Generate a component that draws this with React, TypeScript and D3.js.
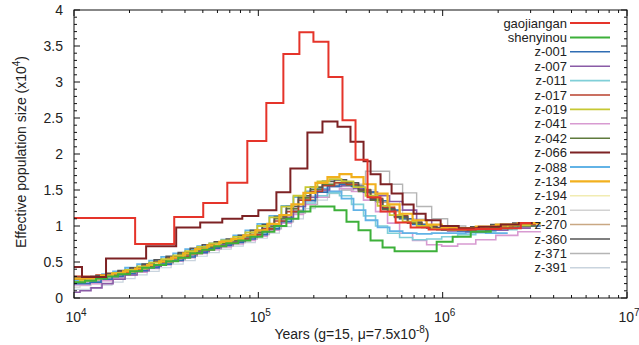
import React from 'react';
import * as d3 from 'd3';

// ---- time grids (years), read from the step positions ----
const GRID_A = [1.0e4, 1.148e4, 1.317e4, 1.511e4, 1.734e4, 2.015e4, 2.342e4, 2.721e4, 3.162e4, 3.675e4, 4.27e4, 4.963e4, 5.767e4, 6.701e4, 7.787e4, 9.05e4, 1.051e5, 1.222e5, 1.42e5, 1.65e5, 1.917e5, 2.228e5, 2.588e5, 3.008e5, 3.495e5, 4.062e5, 4.72e5, 5.485e5, 6.453e5, 7.69e5, 9.28e5, 1.133e6, 1.42e6, 1.824e6, 2.401e6, 3.203e6];
const GRID_B = [0.9e4, 1.222e4, 1.402e4, 1.608e4, 1.846e4, 2.145e4, 2.493e4, 2.897e4, 3.366e4, 3.912e4, 4.545e4, 5.283e4, 6.139e4, 7.133e4, 8.289e4, 9.634e4, 1.119e5, 1.301e5, 1.512e5, 1.756e5, 2.041e5, 2.372e5, 2.755e5, 3.202e5, 3.72e5, 4.324e5, 5.024e5, 5.839e5, 6.869e5, 8.186e5, 9.879e5, 1.206e6, 1.512e6, 1.942e6, 2.556e6, 3.41e6];
const GRID_C = [0.9e4, 1.078e4, 1.237e4, 1.419e4, 1.629e4, 1.893e4, 2.2e4, 2.556e4, 2.971e4, 3.452e4, 4.011e4, 4.662e4, 5.418e4, 6.295e4, 7.315e4, 8.502e4, 9.873e4, 1.148e5, 1.334e5, 1.55e5, 1.801e5, 2.093e5, 2.431e5, 2.826e5, 3.283e5, 3.816e5, 4.434e5, 5.153e5, 6.062e5, 7.224e5, 8.718e5, 1.064e6, 1.334e6, 1.713e6, 2.255e6, 3.009e6];

// ---- gaojiangan & z-066 have their own step times ----
const GAOJIANGAN_T = [0.9e4, 2.146e4, 3.497e4, 5.024e4, 6.786e4, 8.714e4, 1.105e5, 1.367e5, 1.67e5, 1.99e5, 2.401e5, 2.861e5, 3.367e5, 3.912e5, 4.603e5, 5.555e5, 6.701e5, 8.393e5, 1.105e6, 1.511e6, 2.067e6, 2.654e6, 3.008e6];
const GAOJIANGAN_V = [1.11, 0.75, 1.125, 1.32, 1.6, 2.18, 2.71, 3.39, 3.69, 3.56, 3.07, 2.47, 1.92, 1.4, 1.2, 1.05, 0.98, 0.95, 0.95, 0.96, 0.97, 1.04];
const Z066_T = [0.9e4, 1.105e4, 1.492e4, 2.462e4, 3.584e4, 4.838e4, 6.373e4, 8.185e4, 1.0e5, 1.253e5, 1.492e5, 1.846e5, 2.228e5, 2.688e5, 3.162e5, 3.722e5, 4.062e5, 4.603e5, 5.283e5, 6.062e5, 6.958e5, 8.084e5, 9.752e5, 1.222e6, 1.569e6, 2.067e6, 2.588e6, 3.084e6];
const Z066_V = [0.43, 0.29, 0.55, 0.72, 0.98, 1.05, 1.1, 1.14, 1.22, 1.47, 1.8, 2.3, 2.45, 2.38, 2.17, 1.9, 1.72, 1.58, 1.45, 1.3, 1.17, 1.08, 1.0, 0.97, 0.99, 1.02, 1.04];

// ---- Ne values (x10^4) on the grids ----
const SHENYINOU = [0.22, 0.24, 0.27, 0.3, 0.33, 0.37, 0.42, 0.46, 0.51, 0.56, 0.62, 0.67, 0.72, 0.76, 0.8, 0.85, 0.92, 1.0, 1.1, 1.2, 1.27, 1.27, 1.22, 1.06, 0.94, 0.8, 0.7, 0.65, 0.65, 0.65, 0.78, 0.85, 0.92, 0.97];
const Z001 = [0.2, 0.22, 0.26, 0.3, 0.34, 0.38, 0.42, 0.47, 0.52, 0.57, 0.63, 0.69, 0.73, 0.77, 0.82, 0.88, 0.96, 1.06, 1.2, 1.35, 1.47, 1.55, 1.58, 1.55, 1.47, 1.35, 1.22, 1.1, 1.02, 0.97, 0.94, 0.93, 0.95, 0.97, 1.0];
const Z007 = [0.08, 0.1, 0.14, 0.2, 0.26, 0.32, 0.38, 0.44, 0.5, 0.55, 0.6, 0.65, 0.7, 0.74, 0.79, 0.85, 0.92, 1.0, 1.12, 1.27, 1.4, 1.5, 1.55, 1.56, 1.52, 1.47, 1.42, 1.34, 1.22, 1.08, 0.98, 0.93, 0.92, 0.94, 0.97];
const Z011 = [0.28, 0.28, 0.3, 0.33, 0.36, 0.4, 0.45, 0.5, 0.55, 0.6, 0.66, 0.71, 0.75, 0.79, 0.84, 0.9, 0.98, 1.08, 1.2, 1.32, 1.42, 1.46, 1.42, 1.3, 1.14, 1.0, 0.9, 0.84, 0.81, 0.82, 0.85, 0.88, 0.92, 0.95];
const Z017 = [0.3, 0.3, 0.32, 0.34, 0.36, 0.4, 0.45, 0.5, 0.55, 0.58, 0.62, 0.67, 0.72, 0.77, 0.82, 0.88, 0.96, 1.07, 1.2, 1.36, 1.48, 1.56, 1.6, 1.58, 1.5, 1.38, 1.26, 1.14, 1.05, 0.99, 0.96, 0.95, 0.97, 1.0, 1.02];
const Z019 = [0.22, 0.24, 0.27, 0.31, 0.35, 0.39, 0.44, 0.49, 0.54, 0.59, 0.65, 0.71, 0.76, 0.8, 0.85, 0.91, 1.0, 1.12, 1.27, 1.42, 1.54, 1.62, 1.65, 1.62, 1.54, 1.42, 1.28, 1.15, 1.06, 1.0, 0.96, 0.95, 0.96, 0.98, 1.01];
const Z041 = [0.18, 0.2, 0.24, 0.28, 0.32, 0.36, 0.41, 0.46, 0.51, 0.56, 0.62, 0.67, 0.71, 0.75, 0.8, 0.86, 0.94, 1.04, 1.16, 1.3, 1.4, 1.48, 1.52, 1.48, 1.36, 1.2, 1.04, 0.9, 0.8, 0.74, 0.72, 0.75, 0.81, 0.87, 0.92];
const Z042 = [0.26, 0.27, 0.29, 0.32, 0.35, 0.4, 0.45, 0.5, 0.56, 0.61, 0.66, 0.71, 0.76, 0.8, 0.85, 0.91, 0.99, 1.1, 1.24, 1.39, 1.51, 1.58, 1.6, 1.57, 1.48, 1.36, 1.23, 1.12, 1.04, 0.98, 0.95, 0.94, 0.95, 0.97, 1.0];
const Z088 = [0.25, 0.27, 0.3, 0.33, 0.37, 0.42, 0.47, 0.52, 0.57, 0.62, 0.68, 0.72, 0.76, 0.81, 0.87, 0.94, 1.03, 1.14, 1.28, 1.4, 1.48, 1.52, 1.48, 1.38, 1.22, 1.08, 0.98, 0.93, 0.9, 0.89, 0.9, 0.9, 0.91, 0.9];
const Z134 = [0.27, 0.28, 0.31, 0.34, 0.37, 0.41, 0.46, 0.51, 0.56, 0.62, 0.68, 0.73, 0.78, 0.82, 0.87, 0.94, 1.03, 1.15, 1.3, 1.46, 1.6, 1.68, 1.72, 1.68, 1.58, 1.45, 1.3, 1.17, 1.08, 1.02, 0.98, 0.97, 0.99, 1.02, 1.04];
const Z194 = [0.3, 0.3, 0.32, 0.35, 0.38, 0.42, 0.47, 0.52, 0.57, 0.62, 0.67, 0.72, 0.76, 0.8, 0.86, 0.92, 1.0, 1.1, 1.24, 1.38, 1.5, 1.58, 1.62, 1.6, 1.52, 1.4, 1.28, 1.16, 1.07, 1.01, 0.97, 0.96, 0.97, 0.99];
const Z201 = [0.15, 0.17, 0.2, 0.24, 0.28, 0.33, 0.38, 0.44, 0.49, 0.54, 0.6, 0.65, 0.7, 0.74, 0.79, 0.85, 0.92, 1.02, 1.15, 1.3, 1.42, 1.5, 1.55, 1.55, 1.52, 1.45, 1.35, 1.22, 1.1, 1.02, 0.97, 0.95, 0.96, 0.98];
const Z270 = [0.24, 0.25, 0.28, 0.31, 0.35, 0.39, 0.44, 0.49, 0.54, 0.59, 0.65, 0.7, 0.75, 0.79, 0.84, 0.9, 0.98, 1.08, 1.22, 1.37, 1.5, 1.57, 1.6, 1.56, 1.46, 1.33, 1.2, 1.1, 1.03, 0.98, 0.95, 0.95, 0.97, 1.0, 1.03];
const Z360 = [0.28, 0.29, 0.31, 0.34, 0.38, 0.42, 0.47, 0.53, 0.58, 0.63, 0.69, 0.74, 0.78, 0.82, 0.87, 0.94, 1.02, 1.13, 1.27, 1.42, 1.54, 1.62, 1.64, 1.6, 1.5, 1.37, 1.24, 1.13, 1.05, 1.0, 0.97, 0.97, 0.99, 1.02, 1.04];
const Z371 = [0.2, 0.21, 0.24, 0.27, 0.31, 0.35, 0.39, 0.44, 0.48, 0.53, 0.58, 0.63, 0.68, 0.72, 0.77, 0.82, 0.88, 0.96, 1.06, 1.18, 1.3, 1.4, 1.46, 1.5, 1.58, 1.76, 1.76, 1.58, 1.46, 1.27, 1.1, 1.0, 0.95, 0.96, 0.98];
const Z391 = [0.12, 0.14, 0.18, 0.22, 0.27, 0.32, 0.37, 0.42, 0.47, 0.52, 0.58, 0.63, 0.68, 0.72, 0.77, 0.83, 0.9, 0.99, 1.1, 1.24, 1.36, 1.45, 1.5, 1.52, 1.5, 1.44, 1.34, 1.22, 1.1, 1.02, 0.96, 0.94, 0.95, 0.97];

const LEGEND_NAMES = ['gaojiangan', 'shenyinou', 'z-001', 'z-007', 'z-011', 'z-017', 'z-019', 'z-041', 'z-042', 'z-066', 'z-088', 'z-134', 'z-194', 'z-201', 'z-270', 'z-360', 'z-371', 'z-391'];
const Y_TICKS = [0, 0.5, 1, 1.5, 2, 2.5, 3, 3.5, 4];
const X_DECADES = [1e4, 1e5, 1e6, 1e7];

type Series = { name: string; color: string; width: number; t: number[]; v: number[] };

const SERIES: Series[] = [
  { name: 'gaojiangan', color: '#e5342a', width: 2, t: GAOJIANGAN_T, v: GAOJIANGAN_V },
  { name: 'shenyinou', color: '#3db03a', width: 2, t: GRID_A, v: SHENYINOU },
  { name: 'z-001', color: '#2f6db3', width: 1.6, t: GRID_B, v: Z001 },
  { name: 'z-007', color: '#8a5ba6', width: 1.6, t: GRID_C, v: Z007 },
  { name: 'z-011', color: '#80cfd8', width: 1.6, t: GRID_B, v: Z011 },
  { name: 'z-017', color: '#b8402c', width: 1.6, t: GRID_A, v: Z017 },
  { name: 'z-019', color: '#c6c833', width: 1.8, t: GRID_C, v: Z019 },
  { name: 'z-041', color: '#d89bd1', width: 1.6, t: GRID_B, v: Z041 },
  { name: 'z-042', color: '#5f7a3c', width: 1.6, t: GRID_A, v: Z042 },
  { name: 'z-066', color: '#7d2224', width: 2, t: Z066_T, v: Z066_V },
  { name: 'z-088', color: '#62b3e6', width: 1.8, t: GRID_C, v: Z088 },
  { name: 'z-134', color: '#f2b01e', width: 2.2, t: GRID_B, v: Z134 },
  { name: 'z-194', color: '#f1ecb2', width: 1.2, t: GRID_A, v: Z194 },
  { name: 'z-201', color: '#d2d2d2', width: 1.2, t: GRID_C, v: Z201 },
  { name: 'z-270', color: '#c9a883', width: 1.4, t: GRID_B, v: Z270 },
  { name: 'z-360', color: '#555555', width: 1.6, t: GRID_A, v: Z360 },
  { name: 'z-371', color: '#b5b5b5', width: 1.4, t: GRID_C, v: Z371 },
  { name: 'z-391', color: '#c9d4de', width: 1.2, t: GRID_B, v: Z391 },
];

const DRAW_ORDER = ['z-391', 'z-201', 'z-194', 'z-371', 'z-270', 'z-041', 'z-011', 'z-088', 'z-007', 'z-001', 'z-042', 'z-017', 'z-360', 'z-019', 'z-134', 'shenyinou', 'z-066', 'gaojiangan'];

const W = 639, H = 345;
const M = { left: 74, right: 627, top: 10, bottom: 298 };
const FONT = '"Liberation Sans", Arial, Helvetica, sans-serif';
const TXT = '#222';

export default function App() {
  const x = d3.scaleLog().domain([1e4, 1e7]).range([M.left, M.right]);
  const y = d3.scaleLinear().domain([0, 4]).range([M.bottom, M.top]);

  const line = d3.line<[number, number]>()
    .x(d => x(d[0]))
    .y(d => y(d[1]))
    .curve(d3.curveStepAfter);

  const pathFor = (s: Series) => {
    const n = s.v.length;
    const pts: [number, number][] = s.v.map((val, i) => [s.t[i], val]);
    pts.push([s.t[n], s.v[n - 1]]);
    return line(pts) || '';
  };

  const minorX: number[] = [];
  [1e4, 1e5, 1e6].forEach(d => { for (let k = 2; k <= 9; k++) minorX.push(d * k); });
  const minorY = d3.range(0, 4.0001, 0.1).filter(v => Math.abs(v * 2 - Math.round(v * 2)) > 1e-6);

  const byName = new Map(SERIES.map(s => [s.name, s]));
  const legendY0 = 23, legendStep = 14.4;

  return (
    <svg width={W} height={H} style={{ position: 'absolute', left: 0, top: 0, background: '#fff' }} fontFamily={FONT}>
      <defs>
        <clipPath id="plot">
          <rect x={M.left} y={M.top} width={M.right - M.left} height={M.bottom - M.top} />
        </clipPath>
      </defs>
      <rect x={0} y={0} width={W} height={H} fill="#fff" />
      <g clipPath="url(#plot)">
        {DRAW_ORDER.map(nm => {
          const s = byName.get(nm)!;
          return <path key={nm} d={pathFor(s)} fill="none" stroke={s.color} strokeWidth={s.width} strokeLinejoin="miter" />;
        })}
      </g>
      {/* frame */}
      <rect x={M.left} y={M.top} width={M.right - M.left} height={M.bottom - M.top} fill="none" stroke="#111" strokeWidth={1} />
      {/* x ticks */}
      {X_DECADES.map(d => (
        <g key={'xd' + d}>
          <line x1={x(d)} x2={x(d)} y1={M.bottom} y2={M.bottom - 6} stroke="#111" />
          <line x1={x(d)} x2={x(d)} y1={M.top} y2={M.top + 6} stroke="#111" />
        </g>
      ))}
      {minorX.map(d => (
        <g key={'xm' + d}>
          <line x1={x(d)} x2={x(d)} y1={M.bottom} y2={M.bottom - 3} stroke="#111" />
          <line x1={x(d)} x2={x(d)} y1={M.top} y2={M.top + 3} stroke="#111" />
        </g>
      ))}
      {/* y ticks */}
      {Y_TICKS.map(v => (
        <g key={'yt' + v}>
          <line x1={M.left} x2={M.left + 6} y1={y(v)} y2={y(v)} stroke="#111" />
          <line x1={M.right} x2={M.right - 6} y1={y(v)} y2={y(v)} stroke="#111" />
          <text x={M.left - 11} y={y(v) + 5} textAnchor="end" fontSize={14} fill={TXT}>{String(v)}</text>
        </g>
      ))}
      {minorY.map(v => (
        <g key={'ym' + v}>
          <line x1={M.left} x2={M.left + 3} y1={y(v)} y2={y(v)} stroke="#111" />
          <line x1={M.right} x2={M.right - 3} y1={y(v)} y2={y(v)} stroke="#111" />
        </g>
      ))}
      {/* x tick labels */}
      {X_DECADES.map(d => (
        <text key={'xl' + d} x={x(d) + 2} y={322} textAnchor="middle" fontSize={14} fill={TXT}>
          10<tspan fontSize={10} dy={-6}>{String(Math.round(Math.log10(d)))}</tspan>
        </text>
      ))}
      {/* axis titles */}
      <text x={352} y={339} textAnchor="middle" fontSize={14} fill={TXT}>
        Years (g=15, μ=7.5x10<tspan fontSize={10} dy={-6}>-8</tspan><tspan dy={6}>)</tspan>
      </text>
      <text transform={`translate(26,152) rotate(-90)`} textAnchor="middle" fontSize={14} fill={TXT}>
        Effective population size (x10<tspan fontSize={10} dy={-6}>4</tspan><tspan dy={6}>)</tspan>
      </text>
      {/* legend */}
      {LEGEND_NAMES.map((nm, i) => {
        const s = byName.get(nm)!;
        const ly = legendY0 + i * legendStep;
        return (
          <g key={'lg' + nm}>
            <text x={567} y={ly + 4.5} textAnchor="end" fontSize={13} fill={TXT}>{nm}</text>
            <line x1={570} x2={610} y1={ly} y2={ly} stroke={s.color} strokeWidth={Math.max(1.5, s.width)} />
          </g>
        );
      })}
    </svg>
  );
}
